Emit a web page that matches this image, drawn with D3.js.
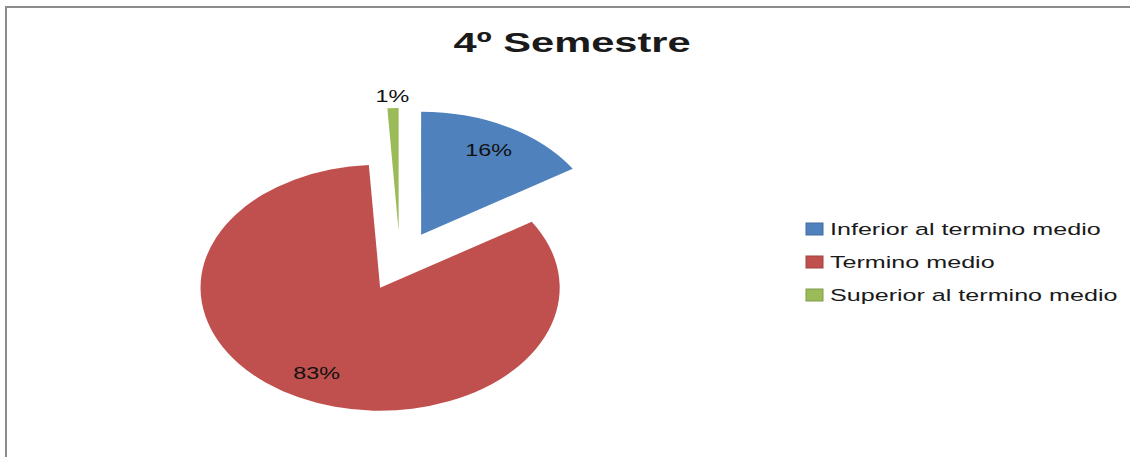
<!DOCTYPE html>
<html lang="es">
<head>
<meta charset="UTF-8">
<title>4º Semestre</title>
<script src="https://cdn.jsdelivr.net/npm/d3@7"></script>
<style>
    body { margin: 0; background: #fff; }
    text { font-family: 'Liberation Sans', Arial, sans-serif; fill: #1a1a1a; }
</style>
</head>
<body>
<svg id="chart" width="1130" height="457"></svg>
<script>
    const title = "4º Semestre";
    const categories = ["Inferior al termino medio", "Termino medio", "Superior al termino medio"];
    const values = [16, 83, 1];
    const colors = ["#4F81BD", "#C0504D", "#9BBB59"];

    const svg = d3.select("#chart");
    const sx = 1.46;              // the picture is stretched sideways
    const cx = 400, cy = 261, r = 123, explode = 30;

    // chart area frame (only top and left edges show)
    svg.append("rect")
        .attr("x", 6).attr("y", 7)
        .attr("width", 1140).attr("height", 470)
        .attr("fill", "none").attr("stroke", "#8c8c8c").attr("stroke-width", 2);

    const stretchedText = (x, y, s) => svg.append("text")
        .attr("transform", `translate(${x},${y}) scale(${sx},1)`)
        .text(s);

    stretchedText(572, 52, title)
        .attr("text-anchor", "middle")
        .style("font-weight", "bold")
        .style("font-size", "28.5px");

    const pie = d3.pie().sort(null).value(d => d);
    const arcs = pie(values);
    const arc = d3.arc().innerRadius(0).outerRadius(r);
    const mid = d => (d.startAngle + d.endAngle) / 2;

    const g = svg.append("g").attr("transform", `translate(${cx},${cy}) scale(${sx},1)`);
    g.selectAll("path")
        .data(arcs).join("path")
        .attr("transform", d => `translate(${Math.sin(mid(d)) * explode},${-Math.cos(mid(d)) * explode})`)
        .attr("d", arc)
        .attr("fill", (d, i) => colors[i]);

    // percentage labels: inside the slice, small slices outside
    arcs.forEach(d => {
        const dist = explode + (d.value < 5 ? 1.1 : 0.78) * r;
        const x = cx + sx * Math.sin(mid(d)) * dist;
        const y = cy - Math.cos(mid(d)) * dist;
        stretchedText(x, y, d.value + "%")
            .attr("text-anchor", "middle")
            .attr("dy", "0.36em")
            .style("font-size", "16px")
            .style("fill", "#111");
    });

    // legend
    const legendY = d3.scalePoint().domain(categories).range([229, 295]);
    categories.forEach((c, i) => {
        svg.append("rect")
            .attr("x", 806).attr("y", legendY(c) - 6)
            .attr("width", 17).attr("height", 12)
            .attr("fill", colors[i])
            .attr("stroke", d3.color(colors[i]).darker(0.5)).attr("stroke-width", 1);
        stretchedText(830, legendY(c), c)
            .attr("dy", "0.36em")
            .style("font-size", "17.2px");
    });
</script>
</body>
</html>
